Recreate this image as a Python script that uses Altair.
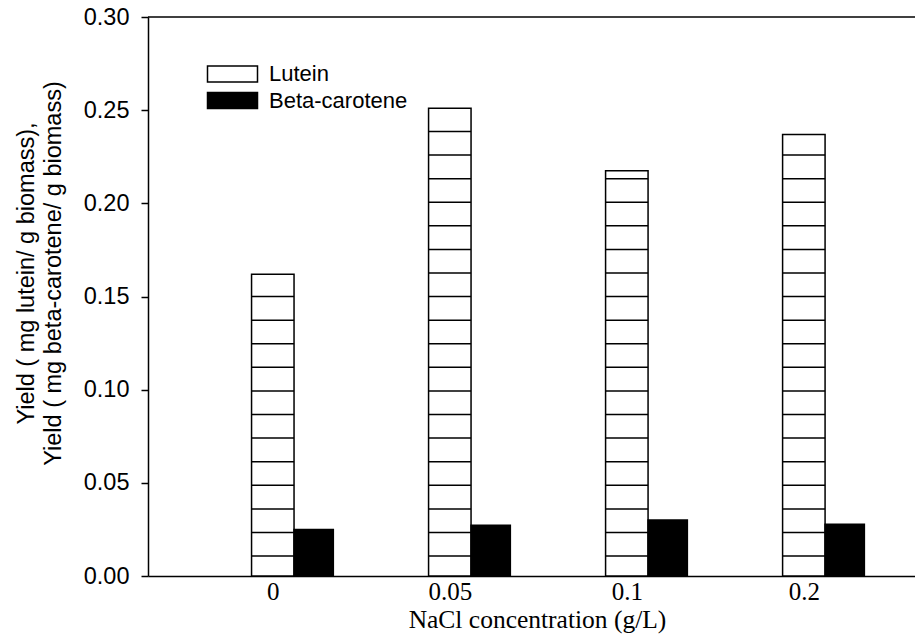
import altair as alt
import pandas as pd

# Yield per NaCl concentration
concentrations = ["0", "0.05", "0.1", "0.2"]
lutein_yield = [0.162, 0.251, 0.2175, 0.237]
beta_carotene_yield = [0.025, 0.0272, 0.030, 0.0278]
series_names = ["Lutein", "Beta-carotene"]
series_fills = ["white", "black"]
y_ticks = [0.0, 0.05, 0.10, 0.15, 0.20, 0.25, 0.30]

# Layout
PLOT_W, PLOT_H = 767, 559
PAD = {"left": 148, "top": 17, "right": 0, "bottom": 68}
# x runs in group steps: the lutein bar of group i ends at i, the beta-carotene bar starts there
X_DOMAIN = [-0.825, 3.508]
LUTEIN_W = 0.240
BETA_W = 0.222
# horizontal hatching of the lutein bars
HATCH_START, HATCH_STEP = 0.0107, 0.01266

SANS = "Liberation Sans"
SERIF = "Liberation Serif"

rows = []
for i, c in enumerate(concentrations):
    rows.append(dict(conc=c, series=series_names[0], value=lutein_yield[i],
                     x0=i - LUTEIN_W, x1=i))
    rows.append(dict(conc=c, series=series_names[1], value=beta_carotene_yield[i],
                     x0=i, x1=i + BETA_W))
bars = pd.DataFrame(rows)

hatch_rows = []
for i, v in enumerate(lutein_yield):
    level = HATCH_START
    while level < v - 0.002:
        hatch_rows.append(dict(x0=i - LUTEIN_W, x1=i, level=level))
        level += HATCH_STEP
hatch = pd.DataFrame(hatch_rows)

label_pos = [i - LUTEIN_W / 2 for i in range(len(concentrations))]
label_expr = "[" + ",".join("'%s'" % c for c in concentrations) + "][round(datum.value + %.3f)]" % (LUTEIN_W / 2)

x_axis = alt.Axis(
    values=label_pos, labelExpr=label_expr, ticks=False, grid=False,
    domainColor="black", domainWidth=1.5,
    labelFont=SERIF, labelFontSize=25, labelColor="black", labelPadding=3,
    title="NaCl concentration (g/L)", titleFont=SERIF, titleFontSize=25.5,
    titleFontWeight="normal", titleColor="black", titleX=389, titleY=31,
)
y_axis = alt.Axis(
    values=y_ticks, format=".2f", grid=False,
    domainColor="black", domainWidth=1.5, tickColor="black", tickWidth=1.5, tickSize=7,
    labelFont=SANS, labelFontSize=23.5, labelColor="black", labelPadding=12,
    title=["Yield ( mg lutein/ g biomass),", "Yield ( mg beta-carotene/ g biomass)"],
    titleFont=SANS, titleFontSize=23.5, titleFontWeight="normal", titleColor="black",
    titleLineHeight=27, titleX=-110, titleY=256,
)
x_scale = alt.Scale(domain=X_DOMAIN, nice=False, zero=False)
y_scale = alt.Scale(domain=[0, 0.30], nice=False)

bar_layer = alt.Chart(bars).mark_bar(stroke="black", strokeWidth=1.5).encode(
    x=alt.X("x0:Q", scale=x_scale, axis=x_axis),
    x2="x1:Q",
    y=alt.Y("value:Q", scale=y_scale, axis=y_axis),
    y2=alt.datum(0),
    color=alt.Color(
        "series:N",
        scale=alt.Scale(domain=series_names, range=series_fills),
        legend=alt.Legend(
            title=None, orient="none", legendX=73.5, legendY=46, padding=0,
            symbolType="M-3.125,-1H3.125V1H-3.125Z", symbolSize=256,
            symbolStrokeColor="black", symbolStrokeWidth=1.5, symbolOpacity=1,
            labelFont=SANS, labelFontSize=22, labelColor="black",
            labelOffset=25.5, rowPadding=4.5,
        ),
    ),
)

hatch_layer = alt.Chart(hatch).mark_rule(color="black", strokeWidth=1.5).encode(
    x=alt.X("x0:Q", scale=x_scale, axis=x_axis),
    x2="x1:Q",
    y=alt.Y("level:Q", scale=y_scale, axis=y_axis),
)

top_frame = alt.Chart(pd.DataFrame({"y": [y_ticks[-1]]})).mark_rule(
    color="black", strokeWidth=1.5
).encode(
    y=alt.Y("y:Q", scale=y_scale, axis=y_axis),
    x=alt.value(0),
    x2=alt.value("width"),
)

chart = (
    alt.layer(bar_layer, hatch_layer, top_frame)
    .properties(width=PLOT_W, height=PLOT_H, autosize=alt.AutoSizeParams(type="none"),
                padding=PAD, background="white")
    .configure_view(stroke=None)
)

chart.save("out.html", embed_options={"renderer": "svg", "actions": False})
